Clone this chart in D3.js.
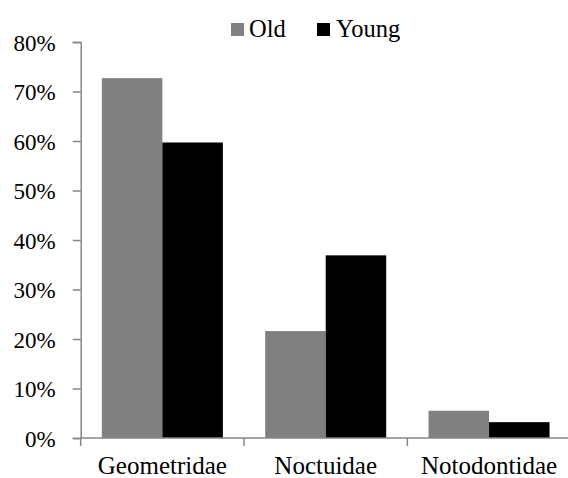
<!DOCTYPE html>
<html>
<head>
<meta charset="utf-8">
<script src="https://cdn.jsdelivr.net/npm/d3@7"></script>
</head>
<body style="margin:0">
<svg id="chart" width="568" height="478" font-family="Liberation Serif" style="display:block;background:#fff"></svg>
<script>
const categories = ["Geometridae", "Noctuidae", "Notodontidae"];
const seriesNames = ["Old", "Young"];
const oldValues = [0.727, 0.216, 0.055];
const youngValues = [0.597, 0.369, 0.032];
const yTicks = [0, 0.1, 0.2, 0.3, 0.4, 0.5, 0.6, 0.7, 0.8];
const colors = ["#808080", "#000000"];

function drawChart() {
  const svg = d3.select("#chart");
  svg.selectAll("*").remove();
  const mLeft = 80.7, mRight = 570.7, mTop = 42, mBottom = 438;

  const x = d3.scaleBand().domain(categories).range([mLeft, mRight])
    .paddingInner(0.259).paddingOuter(0.1295);
  const xs = d3.scaleBand().domain(seriesNames).range([0, x.bandwidth()]);
  const y = d3.scaleLinear().domain([0, 0.8]).range([mBottom, mTop]);

  const data = categories.map((c, i) => ({cat: c, vals: [oldValues[i], youngValues[i]]}));

  const g = svg.append("g");
  data.forEach(d => {
    d.vals.forEach((v, j) => {
      g.append("rect")
        .attr("x", x(d.cat) + xs(seriesNames[j]))
        .attr("y", y(v))
        .attr("width", xs.bandwidth())
        .attr("height", y(0) - y(v))
        .attr("fill", colors[j]);
    });
  });

  const yAxis = d3.axisLeft(y).tickValues(yTicks).tickFormat(d3.format(".0%")).tickSize(8).tickPadding(17);
  const ya = svg.append("g").attr("transform", `translate(${mLeft},0)`).call(yAxis)
    .attr("font-family", null).attr("font-size", null);
  ya.select(".domain").attr("stroke", "#868686").attr("stroke-width", 1.5);
  ya.selectAll(".tick line").attr("stroke", "#868686").attr("stroke-width", 1.5);
  ya.selectAll(".tick text")
    .style("font-family", "'Liberation Serif'").style("font-size", "23px")
    .attr("fill", "#000").attr("dy", "0.36em");

  const step = x.step();
  const boundaries = [0, 1, 2, 3].map(i => mLeft + i * step);
  svg.append("line").attr("x1", mLeft).attr("x2", mRight).attr("y1", mBottom).attr("y2", mBottom)
    .attr("stroke", "#868686").attr("stroke-width", 1.5);
  boundaries.forEach(b => {
    svg.append("line").attr("x1", b).attr("x2", b).attr("y1", mBottom).attr("y2", mBottom + 8)
      .attr("stroke", "#868686").attr("stroke-width", 1.5);
  });

  svg.selectAll("text.cat").data(categories).join("text").attr("class", "cat")
    .attr("x", c => x(c) + x.bandwidth() / 2).attr("y", 474)
    .attr("text-anchor", "middle").attr("fill", "#000")
    .style("font-family", "'Liberation Serif'").style("font-size", "25px")
    .text(c => c);

  const legend = [{name: "Old", sx: 231, tx: 249}, {name: "Young", sx: 317, tx: 336}];
  svg.selectAll("rect.leg").data(legend).join("rect").attr("class", "leg")
    .attr("x", l => l.sx).attr("y", 23).attr("width", 13).attr("height", 13)
    .attr("fill", (l, i) => colors[i]);
  svg.selectAll("text.leg").data(legend).join("text").attr("class", "leg")
    .attr("x", l => l.tx).attr("y", 37).attr("fill", "#000")
    .style("font-family", "'Liberation Serif'").style("font-size", "24.5px")
    .text(l => l.name);
}
drawChart();
</script>
</body>
</html>
